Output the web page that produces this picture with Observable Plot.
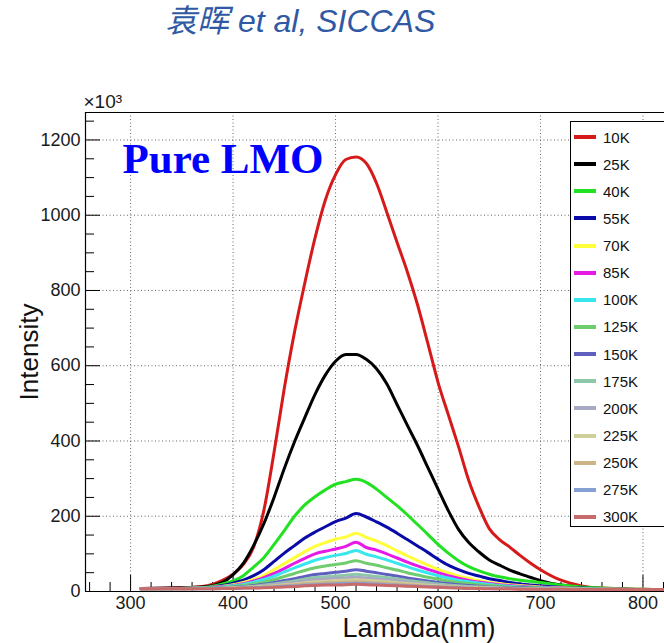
<!DOCTYPE html>
<html>
<head>
<meta charset="utf-8">
<script src="https://cdn.jsdelivr.net/npm/d3@7"></script>
<script src="https://cdn.jsdelivr.net/npm/@observablehq/plot@0.6"></script>
<style>
  html, body { margin: 0; padding: 0; background: #fff; overflow: hidden; }
  #wrap { position: relative; width: 664px; height: 643px; overflow: hidden; font-family: "Liberation Sans", Arial, sans-serif; }
  #title { position: absolute; left: 165px; top: 5px; font-size: 32px; font-style: italic; color: #3059a3; white-space: nowrap; line-height: 1; font-family: "Liberation Sans", Arial, "Noto Sans CJK SC", sans-serif; }
  #legend { position: absolute; left: 570px; top: 121px; width: 110px; height: 406px; border: 1px solid #000; background: #fff; box-sizing: border-box; }
  .item { position: absolute; left: 0; height: 20px; display: flex; align-items: center; font-size: 15px; color: #111; }
  .sw { display: inline-block; width: 22px; height: 4px; margin-left: 3px; margin-right: 7px; }
</style>
</head>
<body>
<div id="wrap">
  <div id="title">袁晖 et al, SICCAS</div>
  <div id="chart"></div>
  <div id="legend"></div>
</div>
<script>
const temps = ["10K","25K","40K","55K","70K","85K","100K","125K","150K","175K","200K","225K","250K","275K","300K"];
const colors = ["#d61a1a","#000000","#22e022","#0a0aa8","#ffff3a","#e619e6","#3ae6ee","#6fcc6f","#5f5fbf","#8ec7a8","#a9a9c4","#cfcf99","#cdb388","#87a0d4","#c66a6a"];

const lambda = [310,340,370,390,400,410,420,430,440,450,460,470,480,490,500,510,520,530,540,550,560,570,580,590,600,610,620,630,640,650,660,670,680,690,700,720,740,760,780,800,820];

const i10K  = [8,9,13,30,46,72,118,215,370,540,690,820,940,1040,1108,1148,1155,1138,1085,1008,928,850,762,660,556,470,385,295,225,167,138,118,96,76,58,30,15,9,7,6,5];
const i25K  = [8,9,12,25,45,75,122,180,250,327,398,462,524,575,612,630,630,617,592,552,497,442,388,330,272,215,165,130,105,84,70,57,47,38,29,17,11,8,6,5,5];
const i40K  = [7,8,10,20,28,42,65,90,125,162,200,230,252,270,285,292,298,290,272,250,228,204,178,152,125,102,82,66,55,46,39,34,30,27,24,17,12,9,7,6,5];
const i55K  = [7,8,10,16,22,30,42,58,80,102,122,142,158,172,186,195,207,198,185,171,155,138,121,104,86,70,58,48,41,34,29,24,20,17,15,11,9,7,6,5,5];
const i70K  = [7,8,10,14,18,24,32,43,58,74,90,106,120,130,139,145,155,144,134,122,108,95,82,70,59,50,41,35,29,24,21,18,16,14,12,10,8,7,6,5,5];
const i85K  = [7,8,9,13,16,21,28,37,48,61,75,88,100,107,113,120,131,117,110,100,89,78,68,59,50,42,35,29,25,21,18,16,14,12,11,9,7,6,6,5,5];
const i100K = [7,8,9,12,15,19,25,32,41,52,63,73,83,90,96,101,109,99,92,84,75,66,57,49,42,36,30,26,22,19,16,14,12,11,10,8,7,6,5,5,5];
const i125K = [7,8,9,11,13,16,20,25,32,40,48,56,63,68,72,76,82,75,70,63,57,50,44,38,33,28,24,21,18,16,14,12,11,10,9,8,7,6,5,5,5];
const i150K = [7,7,8,10,11,13,16,19,24,29,34,40,45,48,51,54,58,54,50,45,41,36,32,28,24,21,18,16,14,12,11,10,9,9,8,7,6,6,5,5,5];
const i175K = [7,7,8,9,10,12,14,17,20,24,28,33,37,39,41,43,46,43,40,37,33,29,26,23,20,17,15,13,12,11,10,9,8,8,7,7,6,6,5,5,5];
const i200K = [7,7,8,9,10,11,13,15,18,21,24,28,31,33,35,36,38,36,33,31,28,25,22,19,17,15,13,12,11,10,9,8,8,7,7,6,6,5,5,5,5];
const i225K = [7,7,8,8,9,10,12,13,15,18,20,23,26,27,29,30,31,30,28,26,23,21,19,17,15,13,12,11,10,9,8,8,7,7,7,6,6,5,5,5,5];
const i250K = [7,7,7,8,9,10,11,12,14,16,18,20,22,23,24,25,26,25,23,22,20,18,16,14,13,12,11,10,9,8,8,7,7,7,6,6,6,5,5,5,5];
const i275K = [7,7,7,8,8,9,10,11,12,14,15,17,18,19,20,21,22,21,20,18,17,15,14,13,12,11,10,9,8,8,7,7,7,6,6,6,5,5,5,5,5];
const i300K = [7,7,7,8,8,9,9,10,11,12,13,15,16,17,17,18,19,18,17,16,15,14,13,12,11,10,9,8,8,7,7,7,6,6,6,6,5,5,5,5,5];

const xMajor = [300,400,500,600,700,800];
const xMinor = [260,280,320,340,360,380,420,440,460,480,520,540,560,580,620,640,660,680,720,740,760,780,820];
const yMajor = [0,200,400,600,800,1000,1200];
const yMinor = [50,100,150,250,300,350,450,500,550,650,700,750,850,900,950,1050,1100,1150,1250];
const xDomain = [256, 821];
const yDomain = [0, 1273];

const series = [i10K,i25K,i40K,i55K,i70K,i85K,i100K,i125K,i150K,i175K,i200K,i225K,i250K,i275K,i300K];
const rows = series.flatMap((vals, s) => lambda.map((l, j) => ({lambda: l, value: vals[j], temp: temps[s]})));

const W = 664, H = 643, mL = 85, mR = 0, mT = 112, mB = 52;
const plotW = W - mL - mR, plotH = H - mT - mB;
const grid = {stroke: "#555", strokeOpacity: 0.9, strokeDasharray: "1,2.5", strokeWidth: 1};

const chart = Plot.plot({
  width: W, height: H,
  marginLeft: mL, marginRight: mR, marginTop: mT, marginBottom: mB,
  style: {fontFamily: "'Liberation Sans', Arial, sans-serif", fontSize: "18px", color: "#1a1a1a", background: "transparent", overflow: "visible"},
  x: {domain: xDomain, axis: null},
  y: {domain: yDomain, axis: null},
  color: {domain: temps, range: colors},
  marks: [
    Plot.ruleX(xMajor, grid),
    Plot.ruleY(yMajor.filter(d => d > 0), grid),
    Plot.tickY(yMajor, {insetRight: plotW - 15, stroke: "#000"}),
    Plot.tickY(yMinor, {insetRight: plotW - 9, stroke: "#000"}),
    Plot.tickX(xMajor, {insetTop: plotH - 16, stroke: "#000"}),
    Plot.tickX(xMinor, {insetTop: plotH - 9, stroke: "#000"}),
    Plot.axisY(yMajor, {tickSize: 0, tickPadding: 5, fontSize: 18, label: null, tickFormat: d => String(d)}),
    Plot.axisX(xMajor, {tickSize: 0, tickPadding: 5, fontSize: 18, label: null, tickFormat: d => String(d)}),
    Plot.line(rows, {x: "lambda", y: "value", z: "temp", stroke: "temp", strokeWidth: 3, curve: "monotone-x"}),
    Plot.ruleX([xDomain[0]], {stroke: "#000", strokeWidth: 1.2}),
    Plot.ruleY(yDomain, {stroke: "#000", strokeWidth: 1.2}),
    Plot.text(["×10³"], {frameAnchor: "top-left", dx: -2, dy: -5, lineAnchor: "bottom", textAnchor: "start", fontSize: 19, fill: "#1a1a1a"}),
    Plot.text(["Pure LMO"], {frameAnchor: "top-left", dx: 37, dy: 30, lineAnchor: "top", textAnchor: "start", fontSize: 43, fontWeight: "bold", fontFamily: "'Liberation Serif', 'Times New Roman', serif", fill: "#0000ff"}),
    Plot.text(["Intensity"], {frameAnchor: "left", dx: -56, rotate: -90, textAnchor: "middle", lineAnchor: "middle", fontSize: 26, fill: "#111"}),
    Plot.text(["Lambda(nm)"], {frameAnchor: "bottom", dx: 44, dy: 37, textAnchor: "middle", lineAnchor: "middle", fontSize: 27, fill: "#111"})
  ]
});
document.getElementById("chart").appendChild(chart);

const legend = document.getElementById("legend");
temps.forEach((t, i) => {
  const item = document.createElement("div");
  item.className = "item";
  item.style.top = (136 + i * 27.14 - 121 - 10) + "px";
  const sw = document.createElement("span");
  sw.className = "sw";
  sw.style.background = colors[i];
  item.appendChild(sw);
  item.appendChild(document.createTextNode(t));
  legend.appendChild(item);
});
</script>
</body>
</html>
